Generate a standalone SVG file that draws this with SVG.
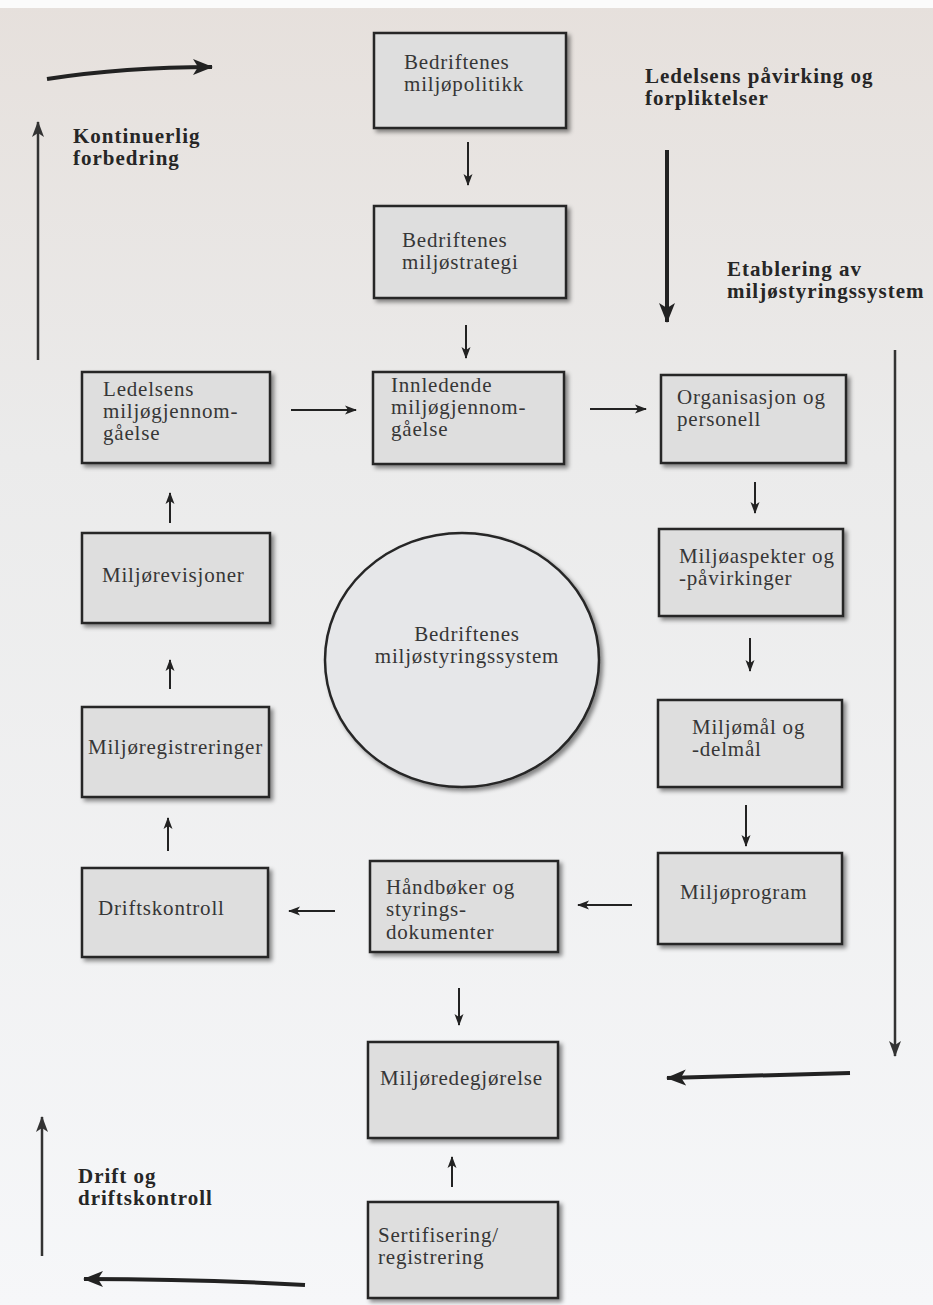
<svg xmlns="http://www.w3.org/2000/svg" width="933" height="1305" viewBox="0 0 933 1305">
<defs>
<linearGradient id="bg" x1="0" y1="0" x2="0" y2="1">
<stop offset="0" stop-color="#e6e0dc"/>
<stop offset="0.35" stop-color="#ebebeb"/>
<stop offset="1" stop-color="#f6f7f9"/>
</linearGradient>
<filter id="sh" x="-10%" y="-10%" width="130%" height="130%">
<feDropShadow dx="3" dy="3" stdDeviation="2" flood-color="#000" flood-opacity="0.45"/>
</filter>
<marker id="ah" markerUnits="userSpaceOnUse" markerWidth="12" markerHeight="12" viewBox="0 0 12 12" refX="11" refY="6" orient="auto">
<path d="M0,1.5 L12,6 L0,10.5 L3,6 Z" fill="#222"/>
</marker>
<marker id="ahb" markerUnits="userSpaceOnUse" markerWidth="20" markerHeight="18" viewBox="0 0 20 18" refX="19" refY="9" orient="auto">
<path d="M0,1 L20,9 L0,17 L5,9 Z" fill="#222"/>
</marker>
<marker id="ahm" markerUnits="userSpaceOnUse" markerWidth="16" markerHeight="14" viewBox="0 0 16 14" refX="15" refY="7" orient="auto">
<path d="M0,1 L16,7 L0,13 L4,7 Z" fill="#333"/>
</marker>
</defs>
<style>
.box{fill:#dedede;stroke:#262626;stroke-width:2.5;filter:url(#sh)}
.circ{fill:#e6e7e9;stroke:#262626;stroke-width:2.5;filter:url(#sh)}
.t{font-family:"Liberation Serif",serif;font-size:21px;letter-spacing:0.8px;fill:#363636}
.lab{font-family:"Liberation Serif",serif;font-size:21px;letter-spacing:1px;font-weight:bold;fill:#262626}
.c{fill:none;stroke:#222;stroke-width:2;marker-end:url(#ah)}
.big{fill:none;stroke:#222;stroke-width:4;marker-end:url(#ahb)}
.mid{fill:none;stroke:#333;stroke-width:2.5;marker-end:url(#ahm)}
</style>
<rect width="933" height="1305" fill="url(#bg)"/>
<rect width="933" height="8" fill="#fbfbfb"/>

<g id="labels">
<text class="lab" x="73" y="143">Kontinuerlig</text>
<text class="lab" x="73" y="165">forbedring</text>
<text class="lab" x="645" y="83">Ledelsens påvirking og</text>
<text class="lab" x="645" y="105">forpliktelser</text>
<text class="lab" x="727" y="276">Etablering av</text>
<text class="lab" x="727" y="298">miljøstyringssystem</text>
<text class="lab" x="78" y="1183">Drift og</text>
<text class="lab" x="78" y="1205">driftskontroll</text>
</g>

<g id="connectors">
<path class="big" d="M47,79 Q125,67 212,67"/>
<path class="mid" d="M38,360 L38,122"/>
<path class="big" d="M667,150 L667,322"/>
<path class="mid" d="M895,350 L895,1056"/>
<path class="big" d="M850,1073 L667,1078"/>
<path class="mid" d="M42,1256 L42,1117"/>
<path class="big" d="M305,1285 Q200,1279 84,1279"/>
<path class="c" d="M468,142 L468,185"/>
<path class="c" d="M466,325 L466,358"/>
<path class="c" d="M291,410 L356,410"/>
<path class="c" d="M590,409 L646,409"/>
<path class="c" d="M755,482 L755,513"/>
<path class="c" d="M750,638 L750,671"/>
<path class="c" d="M746,805 L746,846"/>
<path class="c" d="M632,905 L578,905"/>
<path class="c" d="M335,911 L289,911"/>
<path class="c" d="M168,851 L168,818"/>
<path class="c" d="M170,689 L170,660"/>
<path class="c" d="M170,523 L170,493"/>
<path class="c" d="M459,988 L459,1025"/>
<path class="c" d="M452,1187 L452,1157"/>
</g>

<g id="n-politikk">
<rect class="box" x="374" y="33" width="192" height="95"/>
<text class="t" x="404" y="69">Bedriftenes</text>
<text class="t" x="404" y="91">miljøpolitikk</text>
</g>
<g id="n-strategi">
<rect class="box" x="374" y="206" width="192" height="92"/>
<text class="t" x="402" y="247">Bedriftenes</text>
<text class="t" x="402" y="269">miljøstrategi</text>
</g>
<g id="n-ledelsens">
<rect class="box" x="82" y="372" width="188" height="91"/>
<text class="t" x="103" y="396">Ledelsens</text>
<text class="t" x="103" y="418">miljøgjennom-</text>
<text class="t" x="103" y="440">gåelse</text>
</g>
<g id="n-innledende">
<rect class="box" x="373" y="372" width="191" height="92"/>
<text class="t" x="391" y="392">Innledende</text>
<text class="t" x="391" y="414">miljøgjennom-</text>
<text class="t" x="391" y="436">gåelse</text>
</g>
<g id="n-organisasjon">
<rect class="box" x="661" y="375" width="185" height="88"/>
<text class="t" x="677" y="404">Organisasjon og</text>
<text class="t" x="677" y="426">personell</text>
</g>
<g id="n-aspekter">
<rect class="box" x="659" y="529" width="184" height="87"/>
<text class="t" x="679" y="563">Miljøaspekter og</text>
<text class="t" x="679" y="585">-påvirkinger</text>
</g>
<g id="n-mal">
<rect class="box" x="658" y="700" width="184" height="87"/>
<text class="t" x="692" y="734">Miljømål og</text>
<text class="t" x="692" y="756">-delmål</text>
</g>
<g id="n-program">
<rect class="box" x="658" y="853" width="184" height="91"/>
<text class="t" x="680" y="899">Miljøprogram</text>
</g>
<g id="n-handboker">
<rect class="box" x="370" y="861" width="188" height="91"/>
<text class="t" x="386" y="894">Håndbøker og</text>
<text class="t" x="386" y="916">styrings-</text>
<text class="t" x="386" y="939">dokumenter</text>
</g>
<g id="n-driftskontroll">
<rect class="box" x="82" y="868" width="186" height="89"/>
<text class="t" x="98" y="915">Driftskontroll</text>
</g>
<g id="n-revisjoner">
<rect class="box" x="82" y="533" width="188" height="90"/>
<text class="t" x="102" y="582">Miljørevisjoner</text>
</g>
<g id="n-registreringer">
<rect class="box" x="82" y="707" width="187" height="90"/>
<text class="t" x="88" y="754">Miljøregistreringer</text>
</g>
<g id="n-redegjorelse">
<rect class="box" x="368" y="1042" width="190" height="96"/>
<text class="t" x="380" y="1085">Miljøredegjørelse</text>
</g>
<g id="n-sertifisering">
<rect class="box" x="368" y="1202" width="190" height="96"/>
<text class="t" x="378" y="1242">Sertifisering/</text>
<text class="t" x="378" y="1264">registrering</text>
</g>
<g id="n-system">
<ellipse class="circ" cx="462" cy="660" rx="137" ry="127"/>
<text class="t" x="467" y="641" text-anchor="middle">Bedriftenes</text>
<text class="t" x="467" y="663" text-anchor="middle">miljøstyringssystem</text>
</g>
</svg>
